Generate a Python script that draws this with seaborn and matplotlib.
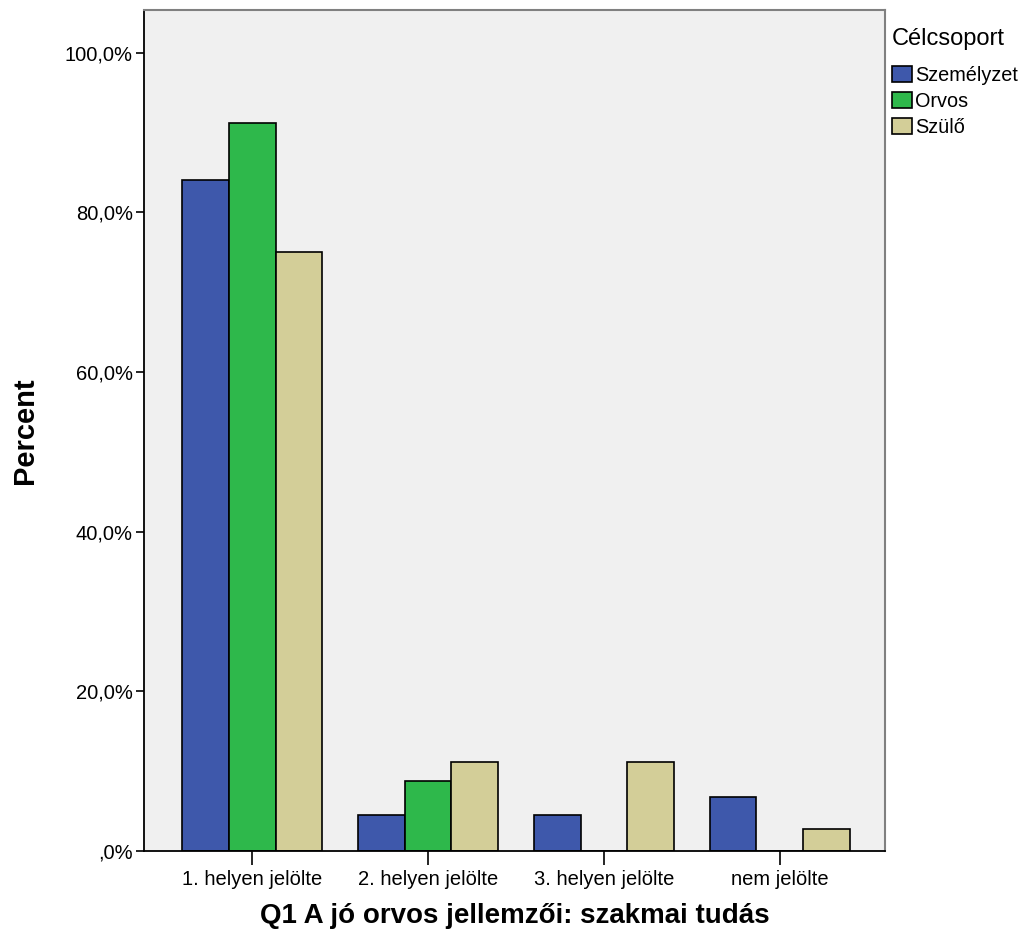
import pandas as pd
import matplotlib
matplotlib.use('Agg')
import matplotlib.pyplot as plt
import seaborn as sns
from matplotlib.ticker import FuncFormatter

# Categories and group values (percent within each target group)
categories = ['1. helyen jelölte', '2. helyen jelölte', '3. helyen jelölte', 'nem jelölte']
groups = ['Személyzet', 'Orvos', 'Szülő']
szemelyzet = [84.1, 4.5, 4.5, 6.8]
orvos = [91.2, 8.8, 0.0, 0.0]
szulo = [75.0, 11.1, 11.1, 2.8]

palette = {
    'Személyzet': '#3E58AB',
    'Orvos': '#2EB84B',
    'Szülő': '#D3CE98',
}

df = pd.DataFrame({
    'category': categories * 3,
    'group': [g for g in groups for _ in categories],
    'percent': szemelyzet + orvos + szulo,
})

sns.set_style('white')
plt.rcParams['font.family'] = ['Liberation Sans', 'DejaVu Sans']
plt.rcParams['text.color'] = 'black'
plt.rcParams['axes.labelcolor'] = 'black'
plt.rcParams['xtick.color'] = 'black'
plt.rcParams['ytick.color'] = 'black'

fig = plt.figure(figsize=(10.29, 9.42), dpi=100)
ax = fig.add_axes([0.140, 0.0966, 0.720, 0.8924])
ax.set_facecolor('#F0F0F0')

sns.barplot(
    data=df,
    x='category',
    y='percent',
    hue='group',
    hue_order=groups,
    order=categories,
    palette=palette,
    saturation=1,
    edgecolor='black',
    linewidth=1.2,
    width=0.8,
    ax=ax,
)

ax.set_ylim(0, 105.3)
ax.set_xlim(-0.614, 3.597)
ax.set_yticks([0, 20, 40, 60, 80, 100])
ax.yaxis.set_major_formatter(FuncFormatter(
    lambda v, p: ',0%' if v == 0 else f'{v:.1f}%'.replace('.', ',')))
ax.tick_params(axis='y', direction='out', length=6, width=1.2, labelsize=14.5, left=True, pad=2)
ax.tick_params(axis='x', direction='out', length=10, width=1.2, labelsize=14.5, bottom=True, pad=4)

ax.set_ylabel('Percent', fontsize=21, fontweight='bold', labelpad=19)
ax.set_xlabel('Q1 A jó orvos jellemzői: szakmai tudás', fontsize=20, fontweight='bold', labelpad=10)

for side in ['left', 'bottom']:
    ax.spines[side].set_color('black')
    ax.spines[side].set_linewidth(1.3)
for side in ['top', 'right']:
    ax.spines[side].set_color('#808080')
    ax.spines[side].set_linewidth(1.5)

handles, labels = ax.get_legend_handles_labels()
ax.legend_.remove()
leg = fig.legend(
    handles, labels, title='Célcsoport',
    loc='upper left', bbox_to_anchor=(0.859, 0.979),
    frameon=False, fontsize=14.3, title_fontsize=17,
    handlelength=1.0, handleheight=0.9, handletextpad=0.15,
    labelspacing=0.35, borderaxespad=0,
)
leg._legend_box.align = 'left'
leg._legend_box.sep = 11.5

fig.savefig('out.png', dpi=100)
